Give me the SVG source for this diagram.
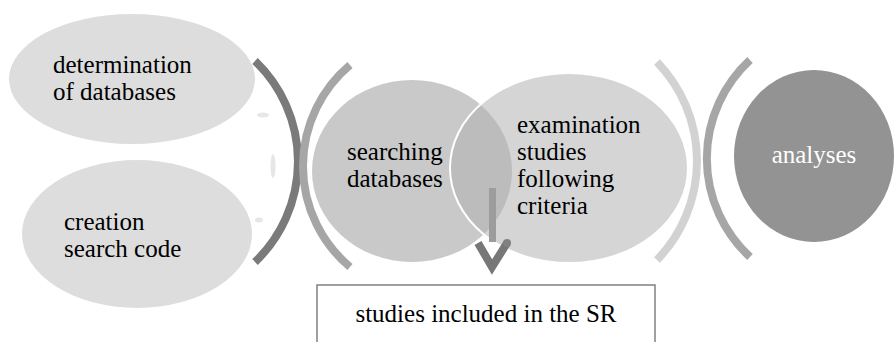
<svg xmlns="http://www.w3.org/2000/svg" width="895" height="342" viewBox="0 0 895 342">
<style>
.t{font-family:'Liberation Serif','Tinos','Times New Roman','DejaVu Serif',serif;font-size:25px;fill:#000}
.arc{fill:none;stroke-width:8}
</style>
<defs>
<clipPath id="clipSearch"><ellipse cx="412" cy="171" rx="100" ry="91"/></clipPath>
</defs>
<rect width="895" height="342" fill="#fff"/>
<g id="connectors">
<path class="arc" d="M255 61 A139 139 0 0 1 255 262" stroke="#7a7a7a"/>
<path class="arc" d="M350 65 A132 132 0 0 0 350 267" stroke="#a6a6a6"/>
<path class="arc" d="M657 62 A142.5 142.5 0 0 1 657 260" stroke="#d2d2d2"/>
<path class="arc" d="M750 60 A134 134 0 0 0 750 257" stroke="#a6a6a6"/>
<ellipse cx="263" cy="115" rx="6" ry="2.5" fill="#e6e6e6"/>
<ellipse cx="273" cy="166" rx="2.5" ry="12" fill="#e6e6e6"/>
<ellipse cx="259" cy="220" rx="4" ry="2.5" fill="#e6e6e6"/>
</g>
<g id="node-determination">
<ellipse cx="132" cy="79" rx="123" ry="65" fill="#dddddd"/>
<text class="t" x="53" y="73">determination</text>
<text class="t" x="53" y="100">of databases</text>
</g>
<g id="node-creation">
<ellipse cx="137" cy="234" rx="115" ry="74" fill="#dddddd"/>
<text class="t" x="64" y="230">creation</text>
<text class="t" x="64" y="257">search code</text>
</g>
<g id="node-searching">
<ellipse cx="412" cy="171" rx="100" ry="91" fill="#c9c9c9"/>
</g>
<g id="node-examination">
<ellipse cx="569" cy="168" rx="119" ry="95" fill="#d5d5d5"/>
<ellipse cx="569" cy="168" rx="119" ry="95" fill="#bcbcbc" clip-path="url(#clipSearch)"/>
<ellipse cx="569" cy="168" rx="119" ry="95" fill="none" stroke="#fff" stroke-width="2"/>
<text class="t" x="517" y="133">examination</text>
<text class="t" x="517" y="160">studies</text>
<text class="t" x="517" y="187">following</text>
<text class="t" x="517" y="214">criteria</text>
</g>
<g id="label-searching">
<text class="t" x="347" y="160">searching</text>
<text class="t" x="347" y="187">databases</text>
</g>
<g id="arrow">
<rect x="489" y="188" width="7" height="54" fill="#9c9c9c"/>
<polyline points="478,243 492,267 507,243" fill="none" stroke="#777" stroke-width="8" stroke-linejoin="miter"/>
<circle cx="507" cy="243" r="4" fill="#808080"/>
</g>
<g id="node-analyses">
<ellipse cx="814" cy="156" rx="80" ry="86" fill="#939393"/>
<text class="t" x="814" y="163" text-anchor="middle" style="fill:#fff">analyses</text>
</g>
<g id="node-included">
<rect x="317" y="285" width="338" height="70" fill="#fff" stroke="#808080" stroke-width="1.5"/>
<text class="t" x="486" y="322" text-anchor="middle">studies included in the SR</text>
</g>
</svg>
